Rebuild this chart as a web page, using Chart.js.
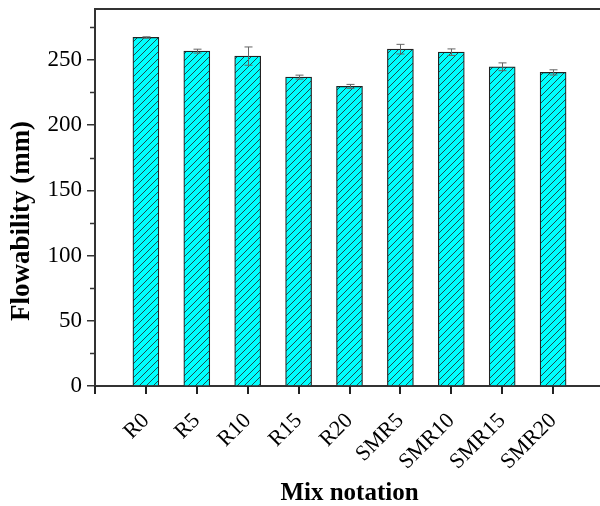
<!DOCTYPE html>
<html>
<head>
<meta charset="utf-8">
<script src="https://cdn.jsdelivr.net/npm/chart.js@4/dist/chart.umd.min.js"></script>
<style>
  html, body { margin: 0; padding: 0; background: #fff; overflow: hidden; }
  #wrap { width: 604px; height: 506px; }
</style>
</head>
<body>
<div id="wrap"><canvas id="flowChart" width="604" height="506"></canvas></div>
<script>
// Data
const mixes = ['R0', 'R5', 'R10', 'R15', 'R20', 'SMR5', 'SMR10', 'SMR15', 'SMR20'];
const flowability = [267.2, 256.7, 252.9, 236.8, 229.7, 258.2, 255.9, 244.7, 240.4];
const flowErr = [0.5, 1.5, 7, 1.5, 1.5, 3.7, 2.5, 3, 2];
const yTicks = [0, 50, 100, 150, 200, 250];
const yMinorTicks = [25, 75, 125, 175, 225, 275];
const yTitle = 'Flowability (mm)';

const axisColor = '#333333';
const serif = "'Liberation Serif', 'Times New Roman', serif";

// blank slots either side so the bars sit one step in from each edge
const labels = [''].concat(mixes, ['']);
const values = [null].concat(flowability, [null]);

function makeHatch() {
    const c = document.createElement('canvas');
    c.width = 7;
    c.height = 7;
    const g = c.getContext('2d');
    g.fillStyle = '#00ffff';
    g.fillRect(0, 0, 7, 7);
    g.strokeStyle = '#1d4f50';
    g.lineWidth = 1;
    g.beginPath();
    g.moveTo(0, 7); g.lineTo(7, 0);
    g.moveTo(-1, 1); g.lineTo(1, -1);
    g.moveTo(6, 8); g.lineTo(8, 6);
    g.stroke();
    return g.createPattern(c, 'repeat');
}

const errorBars = {
    id: 'errorBars',
    afterDatasetsDraw(chart) {
        const ctx = chart.ctx;
        const y = chart.scales.y;
        const meta = chart.getDatasetMeta(0);
        ctx.save();
        ctx.strokeStyle = '#666666';
        ctx.lineWidth = 1;
        flowability.forEach((v, i) => {
            const bar = meta.data[i + 1];
            const x = Math.round(bar.x) + 0.5;
            const top = y.getPixelForValue(v + flowErr[i]);
            const bot = y.getPixelForValue(v - flowErr[i]);
            ctx.beginPath();
            ctx.moveTo(x, top); ctx.lineTo(x, bot);
            ctx.moveTo(x - 4, top); ctx.lineTo(x + 4, top);
            ctx.moveTo(x - 4, bot); ctx.lineTo(x + 4, bot);
            ctx.stroke();
        });
        ctx.restore();
    }
};

const frameAndMinor = {
    id: 'frameAndMinor',
    afterDraw(chart) {
        const ctx = chart.ctx;
        const area = chart.chartArea;
        const y = chart.scales.y;
        const axisY = y.getPixelForValue(0);
        ctx.save();
        ctx.strokeStyle = axisColor;
        ctx.lineWidth = 2;
        ctx.beginPath();
        ctx.moveTo(area.left, area.top);
        ctx.lineTo(area.right, area.top);
        ctx.stroke();
        ctx.lineWidth = 1.5;
        yMinorTicks.forEach(v => {
            const py = Math.round(y.getPixelForValue(v)) + 0.5;
            ctx.beginPath();
            ctx.moveTo(area.left - 5, py);
            ctx.lineTo(area.left, py);
            ctx.stroke();
        });
        // x tick marks under each category slot
        const step = (area.right - area.left) / (labels.length - 1);
        ctx.fillStyle = '#222222';
        labels.forEach((_, i) => {
            const px = Math.round(area.left + i * step);
            ctx.fillRect(px - 1, axisY, 2, 8);
        });
        // y title sits a little below the middle of the axis in the original
        ctx.translate(22, 221);
        ctx.rotate(-Math.PI / 2);
        ctx.fillStyle = '#000';
        ctx.font = 'bold 27px ' + serif;
        ctx.textAlign = 'center';
        ctx.textBaseline = 'middle';
        ctx.fillText(yTitle, 0, 0);
        ctx.restore();
    }
};

new Chart(document.getElementById('flowChart'), {
    type: 'bar',
    data: {
        labels: labels,
        datasets: [{
            data: values,
            backgroundColor: makeHatch(),
            borderColor: '#222222',
            borderWidth: 1.2,
            barThickness: 26
        }]
    },
    options: {
        responsive: false,
        animation: false,
        layout: { padding: { top: 9, right: 0, bottom: 0, left: 0 } },
        plugins: {
            legend: { display: false },
            tooltip: { enabled: false }
        },
        scales: {
            x: {
                offset: false,
                grid: { display: true, offset: false, drawOnChartArea: false, drawTicks: true, tickLength: 8, color: 'rgba(0,0,0,0)' },
                border: { display: true, color: axisColor, width: 2 },
                ticks: {
                    autoSkip: false,
                    minRotation: 45,
                    maxRotation: 45,
                    padding: 14,
                    color: '#000',
                    font: { family: serif, size: 22 }
                },
                title: {
                    display: true,
                    text: 'Mix notation',
                    color: '#000',
                    font: { family: serif, size: 25, weight: 'bold', lineHeight: 1 },
                    padding: { top: 0, bottom: 0 }
                },
                afterFit(scale) {
                    scale.height = 120;
                    scale.paddingLeft = 0;
                    scale.paddingRight = 0;
                }
            },
            y: {
                min: 0,
                max: 289,
                afterBuildTicks(scale) { scale.ticks = yTicks.map(v => ({ value: v })); },
                grid: { display: true, drawOnChartArea: false, drawTicks: true, tickLength: 8, color: axisColor, lineWidth: 1.5 },
                border: { display: true, color: axisColor, width: 2 },
                ticks: {
                    padding: 5,
                    color: '#000',
                    font: { family: serif, size: 23 }
                },
                title: { display: false },
                afterFit(scale) {
                    scale.width = 95;
                    scale.paddingTop = 0;
                    scale.paddingBottom = 0;
                }
            }
        }
    },
    plugins: [errorBars, frameAndMinor]
});
</script>
</body>
</html>
